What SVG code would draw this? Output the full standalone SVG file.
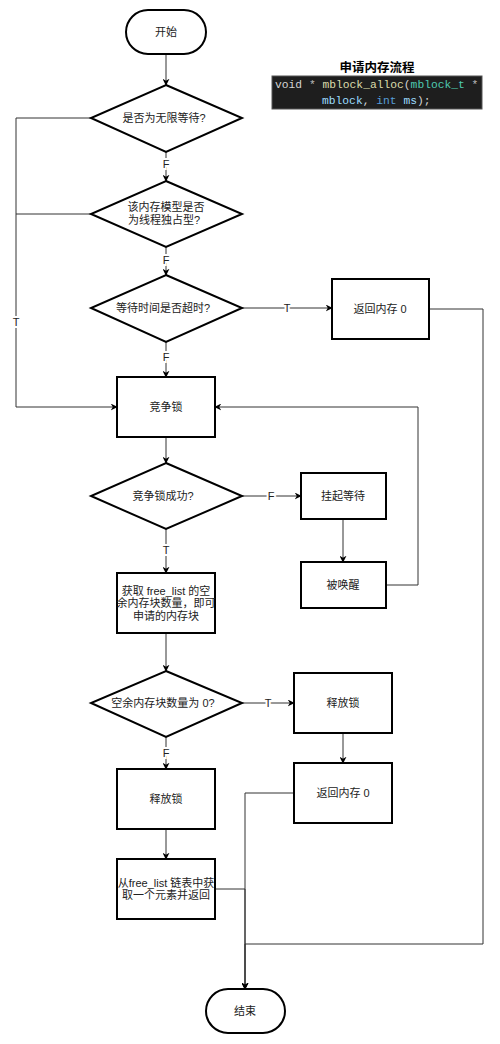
<svg xmlns="http://www.w3.org/2000/svg" width="500" height="1044" viewBox="0 0 500 1044">
<defs>
<style>
.box{fill:#fff;stroke:#000;stroke-width:2}
.ln{fill:none;stroke:#333;stroke-width:1}
.t{font-family:"Liberation Sans","Noto Sans CJK SC",sans-serif;font-size:11px;fill:#222;text-anchor:middle;dominant-baseline:central}
.lb{font-family:"Liberation Sans","Noto Sans CJK SC",sans-serif;font-size:11px;fill:#222;text-anchor:middle;dominant-baseline:central;paint-order:stroke;stroke:#fff;stroke-width:4px}
.code{font-family:"Liberation Mono","DejaVu Sans Mono",monospace;font-size:11.3px}
</style>
<marker id="arr" viewBox="0 0 10 10" refX="9" refY="5" markerWidth="7" markerHeight="7" orient="auto" markerUnits="userSpaceOnUse">
<path d="M0,0 L10,5 L0,10 L3,5 z" fill="#000"/>
</marker>
</defs>
<rect width="500" height="1044" fill="#fff"/>

<g id="title">
<text x="377" y="68" font-family="'Liberation Sans','Noto Sans CJK SC',sans-serif" font-size="12.5" font-weight="bold" text-anchor="middle" dominant-baseline="central" fill="#000">申请内存流程</text>
<rect x="272" y="76" width="210" height="33" fill="#1e1e1e" stroke="#555" stroke-width="1"/>
<text class="code" x="275" y="88"><tspan fill="#d4d4d4">void </tspan><tspan fill="#bbb">* </tspan><tspan fill="#dcdcaa">mblock_alloc</tspan><tspan fill="#d4d4d4">(</tspan><tspan fill="#4ec9b0">mblock_t</tspan><tspan fill="#bbb"> *</tspan></text>
<text class="code" x="322" y="104"><tspan fill="#9cdcfe">mblock</tspan><tspan fill="#d4d4d4">, </tspan><tspan fill="#569cd6">int</tspan><tspan fill="#d4d4d4"> </tspan><tspan fill="#9cdcfe">ms</tspan><tspan fill="#d4d4d4">);</tspan></text>
</g>

<g id="connectors">
<path class="ln" d="M166,54 V85" marker-end="url(#arr)"/>
<path class="ln" d="M166,152 V181" marker-end="url(#arr)"/>
<path class="ln" d="M166,247 V275" marker-end="url(#arr)"/>
<path class="ln" d="M242,308 H332" marker-end="url(#arr)"/>
<path class="ln" d="M166,342 V377" marker-end="url(#arr)"/>
<path class="ln" d="M91,118 H16 V407 H117" marker-end="url(#arr)"/>
<path class="ln" d="M91,214 H16"/>
<path class="ln" d="M166,437 V463" marker-end="url(#arr)"/>
<path class="ln" d="M242,496 H301" marker-end="url(#arr)"/>
<path class="ln" d="M343,519 V562" marker-end="url(#arr)"/>
<path class="ln" d="M386,585 H418 V407 H215" marker-end="url(#arr)"/>
<path class="ln" d="M166,529 V573" marker-end="url(#arr)"/>
<path class="ln" d="M166,633 V671" marker-end="url(#arr)"/>
<path class="ln" d="M242,703 H294" marker-end="url(#arr)"/>
<path class="ln" d="M343,733 V763" marker-end="url(#arr)"/>
<path class="ln" d="M166,737 V769" marker-end="url(#arr)"/>
<path class="ln" d="M166,829 V859" marker-end="url(#arr)"/>
<path class="ln" d="M215,889 H245 V989" marker-end="url(#arr)"/>
<path class="ln" d="M294,793 H245 V989" marker-end="url(#arr)"/>
<path class="ln" d="M429,309 H483 V944 H245 V989" marker-end="url(#arr)"/>
<text class="lb" x="166" y="164">F</text>
<text class="lb" x="166" y="260">F</text>
<text class="lb" x="287" y="308">T</text>
<text class="lb" x="166" y="357">F</text>
<text class="lb" x="16" y="322">T</text>
<text class="lb" x="271" y="496">F</text>
<text class="lb" x="166" y="550">T</text>
<text class="lb" x="268" y="703">T</text>
<text class="lb" x="166" y="753">F</text>
</g>

<g id="start">
<rect class="box" x="126" y="10" width="80" height="44" rx="22"/>
<text class="t" x="166" y="32">开始</text>
</g>
<g id="d1">
<polygon class="box" points="166,85 242,118 166,152 91,118"/>
<text class="t" x="164" y="118">是否为无限等待?</text>
</g>
<g id="d2">
<polygon class="box" points="166,181 242,214 166,247 91,214"/>
<text class="t" x="166" y="207">该内存模型是否</text>
<text class="t" x="164" y="220">为线程独占型?</text>
</g>
<g id="d3">
<polygon class="box" points="166,275 242,308 166,342 91,308"/>
<text class="t" x="163" y="308">等待时间是否超时?</text>
</g>
<g id="ret0a">
<rect class="box" x="332" y="279" width="97" height="60"/>
<text class="t" x="380" y="309">返回内存 0</text>
</g>
<g id="lock">
<rect class="box" x="117" y="377" width="98" height="60"/>
<text class="t" x="166" y="407">竞争锁</text>
</g>
<g id="d4">
<polygon class="box" points="166,463 242,496 166,529 91,496"/>
<text class="t" x="163" y="496">竞争锁成功?</text>
</g>
<g id="suspend">
<rect class="box" x="301" y="473" width="85" height="46"/>
<text class="t" x="343" y="496">挂起等待</text>
</g>
<g id="wake">
<rect class="box" x="301" y="562" width="85" height="46"/>
<text class="t" x="343" y="585">被唤醒</text>
</g>
<g id="getcount">
<rect class="box" x="117" y="573" width="98" height="60"/>
<text class="t" x="166" y="591">获取 free_list 的空</text>
<text class="t" x="166" y="603">余内存块数量，即可</text>
<text class="t" x="166" y="616">申请的内存块</text>
</g>
<g id="d5">
<polygon class="box" points="166,671 242,703 166,737 91,703"/>
<text class="t" x="163" y="703">空余内存块数量为 0?</text>
</g>
<g id="unlockR">
<rect class="box" x="294" y="673" width="98" height="60"/>
<text class="t" x="343" y="703">释放锁</text>
</g>
<g id="ret0b">
<rect class="box" x="294" y="763" width="98" height="60"/>
<text class="t" x="343" y="793">返回内存 0</text>
</g>
<g id="unlockL">
<rect class="box" x="117" y="769" width="98" height="60"/>
<text class="t" x="166" y="799">释放锁</text>
</g>
<g id="take">
<rect class="box" x="117" y="859" width="98" height="60"/>
<text class="t" x="166" y="883">从free_list 链表中获</text>
<text class="t" x="166" y="895">取一个元素并返回</text>
</g>
<g id="end">
<rect class="box" x="206" y="989" width="79" height="44" rx="22"/>
<text class="t" x="245" y="1011">结束</text>
</g>
</svg>
